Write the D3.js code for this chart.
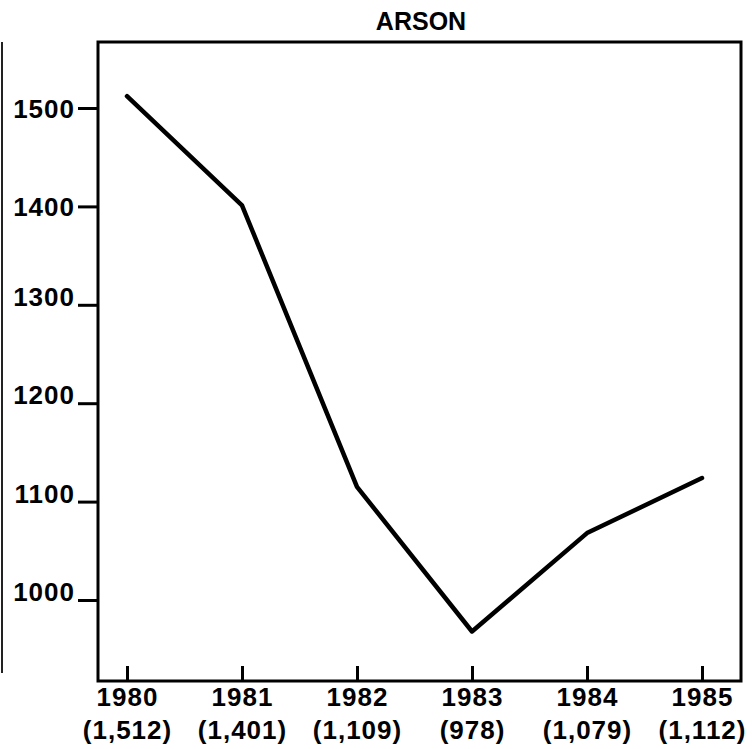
<!DOCTYPE html>
<html>
<head>
<meta charset="utf-8" />
<title>Arson</title>
<style>
html, body {
    padding: 0px;
    margin: 0px;
    background: #fff;
}
svg text {
    font-family: "Liberation Sans", Arial, sans-serif;
    font-weight: bold;
    fill: #000;
}
</style>
</head>
<body>
<div id="chart"></div>

<script src="https://cdnjs.cloudflare.com/ajax/libs/d3/7.8.5/d3.min.js"></script>
<script>
// data
var years = [1980, 1981, 1982, 1983, 1984, 1985];
var arsons = [1512, 1401, 1115, 968, 1068, 1124];      // where the line is drawn
var countLabels = ["(1,512)", "(1,401)", "(1,109)", "(978)", "(1,079)", "(1,112)"];
var yTicks = [1000, 1100, 1200, 1300, 1400, 1500];
var title = "ARSON";

!(function(){
    "use strict"

    var width = 756, height = 749;
    var frame = {left: 98, top: 42, right: 741, bottom: 681};

    var svg = d3.select("#chart").append("svg")
        .attr("width", width)
        .attr("height", height);

    var x = d3.scaleLinear()
        .domain([1980, 1985])
        .range([127, 702]);

    var y = d3.scaleLinear()
        .domain([1000, 1500])
        .range([600, 108]);

    // scan edge on the far left
    svg.append("line")
        .attr("x1", 2).attr("x2", 2)
        .attr("y1", frame.top).attr("y2", 673)
        .attr("stroke", "#222")
        .attr("stroke-width", 2);

    // frame
    svg.append("rect")
        .attr("x", frame.left)
        .attr("y", frame.top)
        .attr("width", frame.right - frame.left)
        .attr("height", frame.bottom - frame.top)
        .attr("fill", "none")
        .attr("stroke", "#000")
        .attr("stroke-width", 3);

    // left axis
    var yAxis = svg.append("g")
        .attr("transform", "translate(" + frame.left + ",0)")
        .call(d3.axisLeft(y).tickValues(yTicks).tickSize(20).tickPadding(3).tickFormat(d3.format("d")));
    yAxis.select(".domain").remove();
    yAxis.selectAll(".tick line")
        .attr("stroke", "#000")
        .attr("stroke-width", 3);
    yAxis.selectAll(".tick text")
        .attr("font-size", 26)
        .attr("letter-spacing", 1)
        .attr("dy", function(d){ return d >= 1400 ? "0.36em" : "0.02em" });

    // bottom axis, ticks pointing inward
    var xAxis = svg.append("g")
        .attr("transform", "translate(0," + frame.bottom + ")")
        .call(d3.axisBottom(x).tickValues(years).tickSize(-15).tickFormat(d3.format("d")));
    xAxis.select(".domain").remove();
    xAxis.selectAll(".tick line")
        .attr("stroke", "#000")
        .attr("stroke-width", 3);
    xAxis.selectAll(".tick text").remove();

    var labels = xAxis.selectAll(".tick")
        .append("text")
        .attr("text-anchor", "middle")
        .attr("font-size", 26)
        .attr("letter-spacing", 1);
    labels.append("tspan")
        .attr("x", 0)
        .attr("y", 25)
        .text(function(d){ return d });
    labels.append("tspan")
        .attr("x", 0)
        .attr("y", 58)
        .text(function(d, i){ return countLabels[i] });

    // line
    var line = d3.line()
        .x(function(d, i){ return x(years[i]) })
        .y(function(d){ return y(d) });

    svg.append("path")
        .datum(arsons)
        .attr("d", line)
        .attr("fill", "none")
        .attr("stroke", "#000")
        .attr("stroke-width", 4.5)
        .attr("stroke-linejoin", "round")
        .attr("stroke-linecap", "round");

    // title
    svg.append("text")
        .attr("x", 421)
        .attr("y", 30)
        .attr("text-anchor", "middle")
        .attr("font-size", 25)
        .text(title);

}());
</script>
</body>
</html>
